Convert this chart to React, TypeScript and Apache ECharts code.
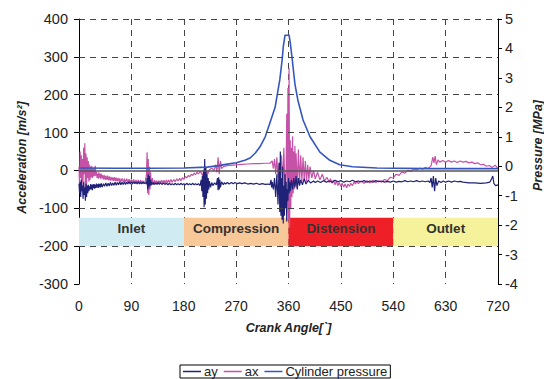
import React, { useEffect, useRef } from "react";
import * as echarts from "echarts";

const xTicks = [0, 90, 180, 270, 360, 450, 540, 630, 720];
const gridLevels = [400, 300, 200, 100, -100, -200];

const phases = ["Inlet", "Compression", "Distension", "Outlet"];
const phaseStart = [0, 180, 360, 540];
const phaseEnd = [180, 360, 540, 720];
const phaseColors = ["#d0ecf2", "#f9c898", "#ee1f26", "#f6f19b"];
const bandTop = -125;
const bandBottom = -200;

const ay: [number, number][] = [
  [0,-35],[1,-60],[2,-30],[3,-70],[4,-25],[5,-55],[6,-40],[7,-75],[8,-30],[9,-65],[10,-45],[11,-80],[12,-35],[13,-70],[14,-40],[15,-60],[16,-38],[17,-55],[18,-42],[19,-50],[20,-36],[21,-50],[22,-38],[23,-52],[24,-37],[25,-47],[26,-36],[27,-48],[28,-38],[29,-46],[30,-35],[31,-45],[32,-37],[33,-46],[34,-35],[35,-44],[36,-36],[37,-45],[38,-34],[40,-44],[42,-35],[44,-42],[46,-33],[48,-42],[50,-34],[52,-41],[54,-32],[56,-40],[58,-33],[60,-39],[62,-31],[64,-39],[66,-32],[68,-38],[70,-30],[72,-38],[74,-31],[76,-37],[78,-30],[80,-37],[82,-31],[84,-36],[86,-29],[88,-36],[90,-30],[92,-36],[94,-30],[96,-35],[98,-31],[100,-36],[102,-30],[104,-36],[106,-31],[108,-36],[110,-31],[112,-35],[114,-32],[116,-36],[117,-20],[118,-50],[119,-10],[120,-45],[121,-15],[122,-40],[123,-25],[124,-38],[125,-31],[127,-37],[128,-32],[130,-37],[132,-33],[134,-37],[136,-32],[138,-37],[140,-33],[143,-37],[145,-33],[148,-37],[150,-34],[153,-38],[155,-34],[158,-38],[160,-35],[163,-38],[165,-34],[168,-38],[170,-35],[173,-38],[175,-34],[178,-38],[180,-35],[183,-38],[185,-34],[188,-38],[190,-35],[193,-38],[195,-34],[198,-38],[200,-35],[203,-38],[205,-35],[208,-40],[210,-25],[211,-55],[212,-15],[213,-70],[214,0],[215,-97],[216,30],[217,-90],[218,10],[219,-75],[220,-10],[221,-60],[222,-20],[223,-50],[224,-28],[226,-45],[228,-32],[230,-40],[233,-33],[236,-38],[238,-20],[239,-52],[240,-18],[241,-50],[242,-25],[243,-45],[245,-30],[248,-38],[250,-32],[252,-36],[255,-32],[258,-36],[262,-32],[265,-35],[268,-32],[272,-35],[276,-33],[280,-35],[285,-33],[290,-36],[295,-34],[300,-36],[305,-34],[310,-37],[315,-35],[320,-37],[325,-36],[328,-38],[330,-25],[331,-45],[332,-30],[334,-50],[336,-20],[338,-70],[340,-10],[342,-90],[344,20],[345,-110],[346,50],[347,-120],[348,-20],[349,-130],[350,10],[351,-140],[352,-40],[353,-120],[354,-10],[355,-100],[356,-30],[357,-135],[358,-50],[359,-80],[360,-20],[361,-60],[362,-30],[363,-55],[365,-25],[367,-50],[369,-20],[371,-45],[373,-15],[375,-50],[377,-20],[379,-40],[381,-25],[384,-38],[387,-22],[390,-36],[394,-26],[398,-33],[403,-28],[406,-32],[410,-28],[415,-32],[420,-27],[425,-31],[430,-28],[435,-31],[440,-26],[445,-30],[450,-27],[455,-31],[460,-28],[465,-30],[470,-26],[475,-30],[480,-28],[485,-30],[490,-27],[495,-31],[500,-28],[505,-31],[510,-27],[515,-30],[520,-28],[525,-31],[530,-29],[535,-31],[540,-28],[545,-31],[550,-29],[555,-30],[560,-27],[565,-30],[570,-28],[575,-30],[580,-27],[585,-30],[590,-28],[595,-30],[600,-28],[603,-32],[605,-20],[607,-45],[609,-15],[611,-55],[613,-20],[615,-40],[618,-28],[622,-32],[626,-28],[630,-31],[635,-28],[640,-31],[645,-28],[650,-30],[655,-29],[660,-31],[670,-33],[680,-33],[690,-34],[700,-33],[706,-31],[709,-22],[711,-15],[713,-35],[716,-40],[720,-38]
];

const ax: [number, number][] = [
  [0,10],[1,-40],[2,50],[3,-20],[4,40],[5,-55],[6,30],[7,-30],[8,60],[9,-10],[10,72],[11,-60],[12,45],[13,-40],[14,35],[15,-20],[16,25],[17,-30],[18,15],[19,-25],[20,10],[21,-18],[22,12],[23,-20],[24,5],[25,-16],[26,8],[27,-15],[28,12],[29,-14],[30,-4],[31,-20],[32,-8],[33,-22],[34,-5],[35,-19],[36,-9],[37,-22],[38,-8],[39,-21],[40,-12],[42,-24],[43,-12],[45,-25],[46,-14],[48,-25],[49,-14],[51,-26],[52,-16],[54,-27],[55,-17],[57,-27],[58,-18],[60,-28],[61,-18],[63,-28],[64,-19],[66,-29],[67,-20],[69,-29],[70,-21],[72,-30],[74,-21],[76,-30],[78,-22],[80,-31],[82,-22],[84,-31],[86,-23],[88,-32],[90,-24],[92,-32],[94,-24],[96,-33],[98,-25],[100,-33],[102,-25],[104,-34],[106,-26],[108,-34],[110,-27],[112,-34],[114,-28],[116,-10],[117,48],[118,-60],[119,30],[120,-65],[121,10],[122,-50],[123,-5],[124,-40],[126,-20],[128,-38],[130,-26],[131,-36],[133,-27],[134,-36],[136,-27],[137,-35],[139,-27],[140,-35],[142,-26],[144,-34],[146,-26],[148,-34],[150,-25],[152,-33],[154,-25],[156,-32],[158,-24],[160,-31],[163,-24],[165,-30],[168,-22],[170,-28],[173,-21],[175,-27],[178,-19],[180,-24],[183,-16],[185,-20],[188,-13],[190,-17],[193,-10],[195,-14],[198,-7],[200,-11],[203,-5],[205,-9],[208,-3],[210,-6],[213,-15],[215,5],[217,-25],[219,0],[221,-10],[224,2],[228,6],[232,0],[235,15],[237,-5],[239,35],[241,-10],[243,25],[245,5],[248,10],[252,12],[258,13],[265,14],[272,15],[280,16],[290,17],[300,18],[310,18],[320,19],[328,19],[332,25],[334,5],[336,30],[338,-10],[340,35],[342,-20],[344,20],[346,-30],[348,40],[350,-40],[352,60],[354,-60],[356,10],[357,150],[358,-80],[359,218],[360,-130],[361,270],[362,-150],[363,80],[364,-100],[365,60],[366,-70],[367,90],[368,-60],[369,50],[370,-50],[371,65],[372,-40],[373,45],[375,-45],[377,55],[379,-35],[381,40],[383,-30],[385,35],[387,-25],[389,25],[391,-30],[393,15],[395,-25],[397,10],[400,-20],[403,0],[406,-22],[410,-5],[414,-25],[418,-10],[422,-28],[426,-18],[430,-32],[432,-22],[435,-34],[437,-26],[440,-38],[442,-28],[445,-40],[447,-32],[450,-42],[452,-34],[455,-44],[457,-36],[460,-46],[462,-36],[465,-42],[467,-34],[470,-40],[473,-30],[475,-36],[478,-28],[480,-35],[485,-28],[490,-34],[495,-27],[500,-33],[505,-26],[510,-32],[515,-27],[520,-31],[525,-24],[530,-27],[535,-18],[540,-20],[545,-10],[550,-13],[555,-4],[560,-7],[565,0],[570,-3],[575,4],[580,1],[585,6],[590,3],[595,8],[600,5],[605,12],[608,35],[610,20],[612,38],[614,15],[617,28],[620,22],[625,26],[630,22],[635,26],[640,22],[645,25],[650,21],[655,25],[660,22],[665,24],[670,20],[675,22],[680,18],[685,20],[690,15],[695,16],[700,11],[705,13],[710,8],[715,14],[720,5]
];

const pressure: [number, number][] = [
  [0,-0.06],[60,-0.07],[120,-0.07],[180,-0.06],[220,-0.03],[240,0.02],[255,0.07],[270,0.12],[285,0.2],[294,0.28],[303,0.45],[311,0.66],[320,1.0],[328,1.47],[337,2.0],[345,2.93],[349,3.6],[351,4.05],[354,4.45],[361,4.45],[363,4.2],[366,3.7],[371,2.8],[376,2.25],[385,1.57],[397,1.0],[414,0.48],[431,0.2],[448,0.05],[470,-0.02],[512,-0.06],[600,-0.08],[720,-0.08]
];

const FONT = "Liberation Sans, Arial, sans-serif";

export default function App() {
  const ref = useRef<HTMLDivElement>(null);
  useEffect(() => {
    if (!ref.current) return;
    const chart = echarts.init(ref.current, undefined, { renderer: "svg" });
    const option: any = {
      animation: false,
      textStyle: { fontFamily: FONT },
      grid: { left: 79, right: 46, top: 19, bottom: 95, outerBoundsMode: "none", containLabel: false },
      legend: {
        bottom: 1,
        left: 180,
        data: [
          { name: "ay", icon: "rect" },
          { name: "ax", icon: "rect" },
          { name: "Cylinder pressure", icon: "rect" },
        ],
        borderColor: "#000",
        borderWidth: 1,
        borderRadius: 0,
        padding: [0, 3],
        itemGap: 6,
        itemWidth: 18,
        itemHeight: 1.5,
        textStyle: { fontSize: 13, color: "#222", fontFamily: FONT, padding: [0, 0, 0, -2] },
      },
      xAxis: {
        type: "value",
        min: 0,
        max: 720,
        interval: 90,
        axisLine: { show: false, onZero: false },
        axisTick: { show: false },
        axisLabel: { fontSize: 14, color: "#222", margin: 15, fontFamily: FONT },
        splitLine: { show: true, lineStyle: { type: [6, 5], color: "#444", width: 1 } },
        name: "Crank Angle[`]",
        nameLocation: "middle",
        nameGap: 37,
        nameTextStyle: { fontSize: 12.5, fontWeight: "bold", fontStyle: "italic", color: "#222", fontFamily: FONT },
      },
      yAxis: [
        {
          type: "value",
          min: -300,
          max: 400,
          interval: 100,
          axisLine: { show: true, onZero: false, lineStyle: { color: "#000", width: 1 } },
          axisTick: { show: true, length: 5, lineStyle: { color: "#000" } },
          axisLabel: { fontSize: 14.5, color: "#222", margin: 11, fontFamily: FONT },
          splitLine: { show: false },
          name: "Acceleration [m/s²]",
          nameLocation: "middle",
          nameGap: 50,
          nameRotate: 90,
          nameTextStyle: { fontSize: 12.5, fontWeight: "bold", fontStyle: "italic", color: "#222", fontFamily: FONT, padding: [0, 0, 0, -12] },
        },
        {
          type: "value",
          min: -4,
          max: 5,
          interval: 1,
          position: "right",
          axisLine: { show: true, onZero: false, lineStyle: { color: "#000", width: 1 } },
          axisTick: { show: true, length: 4, lineStyle: { color: "#000" } },
          axisLabel: { fontSize: 14.5, color: "#222", margin: 7, fontFamily: FONT },
          splitLine: { show: false },
          name: "Pressure [MPa]",
          nameLocation: "middle",
          nameGap: 33,
          nameRotate: 90,
          nameTextStyle: { fontSize: 12.5, fontWeight: "bold", fontStyle: "italic", color: "#222", fontFamily: FONT, padding: [0, 0, 0, 12] },
        },
      ],
      series: [
        {
          name: "grid",
          type: "line",
          data: [],
          z: 1,
          silent: true,
          markLine: {
            silent: true,
            symbol: "none",
            label: { show: false },
            lineStyle: { type: [6, 5], color: "#444", width: 1 },
            data: [
              ...gridLevels.map((v) => ({ yAxis: v })),
              { yAxis: 0, lineStyle: { type: "solid", color: "#555", width: 1.5 } },
            ],
          },
        },
        {
          name: "bands",
          type: "line",
          data: [],
          z: 2,
          silent: true,
          markArea: {
            silent: true,
            label: {
              show: true,
              position: "inside",
              fontSize: 13.5,
              fontWeight: "bold",
              color: "#333",
              fontFamily: FONT,
              offset: [0, -3],
            },
            data: phases.map((p, i) => [
              { name: p, xAxis: phaseStart[i], yAxis: bandTop, itemStyle: { color: phaseColors[i], opacity: 1 } },
              { xAxis: phaseEnd[i], yAxis: bandBottom },
            ]),
          },
        },
        {
          name: "ax",
          type: "line",
          data: ax,
          yAxisIndex: 0,
          symbol: "none",
          z: 3,
          itemStyle: { color: "#c652a8" },
          lineStyle: { color: "#c652a8", width: 1.2 },
        },
        {
          name: "ay",
          type: "line",
          data: ay,
          yAxisIndex: 0,
          symbol: "none",
          z: 3,
          itemStyle: { color: "#1f2277" },
          lineStyle: { color: "#1f2277", width: 1.2 },
        },
        {
          name: "Cylinder pressure",
          type: "line",
          data: pressure,
          yAxisIndex: 1,
          symbol: "none",
          z: 4,
          itemStyle: { color: "#3456c0" },
          lineStyle: { color: "#3456c0", width: 1.6 },
        },
      ],
    };
    chart.setOption(option);
    return () => chart.dispose();
  }, []);
  return <div ref={ref} style={{ width: 544, height: 379, position: "absolute", left: 0, top: 0 }} />;
}
